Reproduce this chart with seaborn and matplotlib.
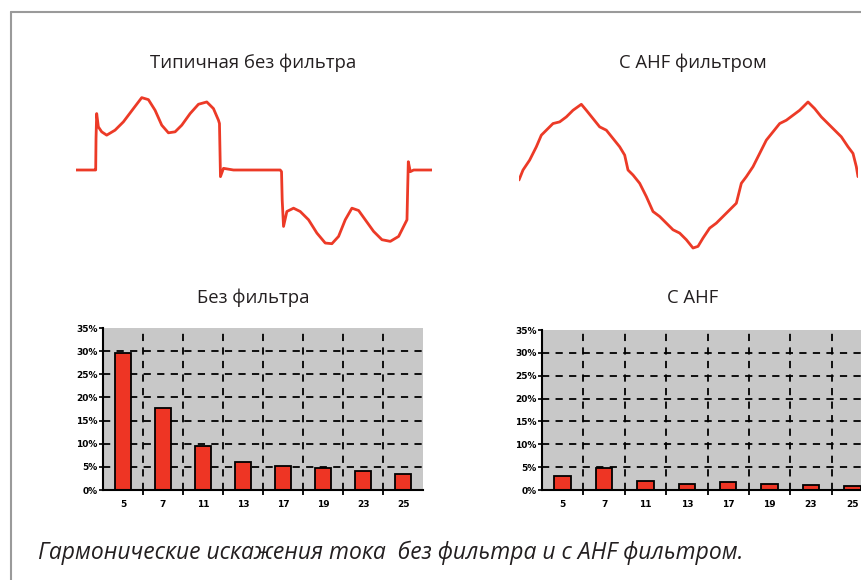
import numpy as np
import pandas as pd
import matplotlib
matplotlib.use("Agg")
import matplotlib.pyplot as plt
import seaborn as sns
from matplotlib.ticker import FixedLocator

# --- data ---
harmonics = ["5", "7", "11", "13", "17", "19", "23", "25"]
thd_no_filter = [29.6, 17.7, 9.4, 6.1, 5.1, 4.8, 4.1, 3.5]
thd_ahf = [3.1, 4.8, 2.0, 1.4, 1.7, 1.4, 1.0, 0.95]

# current waveform without filter (t in ms, i in A)
t_raw = [0.0, 1.14, 1.18, 1.2, 1.24, 1.34, 1.54, 1.84, 2.34, 2.84, 3.44, 3.94, 4.34,
         4.74, 5.14, 5.54, 5.94, 6.34, 6.84, 7.34, 7.84, 8.24, 8.54, 8.6, 8.66, 8.84,
         9.44, 12.24, 12.32, 12.36, 12.44, 12.64, 13.04, 13.44, 13.94, 14.44, 14.94,
         15.34, 15.74, 16.14, 16.54, 16.94, 17.34, 17.84, 18.34, 18.84, 19.34, 19.74,
         19.84, 19.88, 19.92, 20.04, 20.24, 21.34]
i_raw = [0, 0, 0, 47.5, 85, 65, 57.5, 52.5, 60, 72.5, 92.5, 109, 106,
         90, 67.5, 56, 57.5, 67.5, 85, 99, 102.5, 92.5, 75, 70, -10, 2.5,
         0, 0, -2.5, -45, -85, -62.5, -57.5, -62.5, -75, -95, -110,
         -111, -100, -75, -57.5, -61, -75, -92.5, -105, -107.5, -100, -80,
         -75, -30, 12.5, -2.5, 0, 0]

# current waveform with AHF filter
t_ahf = [0.0, 0.24, 0.64, 1.04, 1.34, 1.64, 2.04, 2.44, 2.84, 3.24, 3.74, 4.04, 4.44,
         4.84, 5.24, 5.64, 6.04, 6.34, 6.54, 6.84, 7.24, 7.64, 8.04, 8.44, 8.84, 9.24,
         9.64, 10.04, 10.44, 10.74, 11.04, 11.44, 11.84, 12.24, 12.64, 13.04, 13.34,
         13.64, 14.04, 14.44, 14.84, 15.24, 15.64, 16.04, 16.44, 16.84, 17.34, 17.74,
         18.14, 18.54, 18.94, 19.34, 19.74, 20.04, 20.24, 20.34]
i_ahf = [-7.5, 7.5, 22.5, 42.5, 60, 67.5, 77.5, 80, 87.5, 97.5, 106.5, 97.5, 85,
         72.5, 67.5, 55, 42.5, 30, 7.5, 0, -12.5, -32.5, -55, -62.5, -72.5, -82.5,
         -87.5, -97.5, -110, -107.5, -95, -80, -72.5, -62.5, -52.5, -42.5, -12.5,
         -2.5, 12.5, 32.5, 52.5, 65, 77.5, 82.5, 90, 97.5, 110, 100, 87.5,
         77.5, 67.5, 57.5, 42.5, 32.5, 12.5, -2.5]

RED = "#ec3a27"
TXT = "#231f20"
FONT = ["Open Sans", "DejaVu Sans"]

sns.set_theme(style="white")
plt.rcParams["font.family"] = FONT

W, H = 861, 580
fig = plt.figure(figsize=(W / 100, H / 100), dpi=100)
fig.patch.set_facecolor("white")


def px_axes(x0, y0, x1, y1):
    return fig.add_axes([x0 / W, 1 - y1 / H, (x1 - x0) / W, (y1 - y0) / H])


# frame lines (top and left)
fig.add_artist(plt.Line2D([11 / W, 1], [1 - 12 / H, 1 - 12 / H], color="#9a9a9a", lw=1.5))
fig.add_artist(plt.Line2D([11 / W, 11 / W], [0, 1 - 12 / H], color="#9a9a9a", lw=1.5))


def wave(ax, t, i):
    sns.lineplot(x=t, y=i, ax=ax, color=RED, lw=2.0, estimator=None, sort=False)
    ax.set_xlim(min(t), max(t))
    ax.set_ylim(-120.5, 120.5)
    ax.axis("off")


ax_w1 = px_axes(76, 90, 432, 250)
wave(ax_w1, t_raw, i_raw)
ax_w2 = px_axes(519, 95, 858, 255)
wave(ax_w2, t_ahf, i_ahf)


def bars(ax, vals):
    df = pd.DataFrame({"h": harmonics, "v": vals})
    ax.set_facecolor("#c8c8c8")
    sns.barplot(data=df, x="h", y="v", ax=ax, color="#ee3524", width=0.4,
                edgecolor="black", linewidth=1.3, saturation=1)
    ax.set_xlim(-0.5, len(harmonics) - 0.5)
    ax.set_ylim(0, 35)
    ax.set_yticks(range(0, 36, 5))
    ax.set_yticklabels([f"{v}%" for v in range(0, 36, 5)])
    ax.xaxis.set_minor_locator(FixedLocator(np.arange(0.5, len(harmonics) - 1, 1)))
    ax.grid(False)
    for y in range(5, 35, 5):
        ax.axhline(y, color="black", lw=1.3, ls=(0, (4, 3.5)), zorder=0.5)
    for x in np.arange(0.5, len(harmonics) - 1, 1):
        ax.axvline(x, color="black", lw=1.3, ls=(0, (4, 3.5)), zorder=0.5)
    ax.set_axisbelow(True)
    for s in ["top", "right"]:
        ax.spines[s].set_visible(False)
    for s in ["left", "bottom"]:
        ax.spines[s].set_color("black")
        ax.spines[s].set_linewidth(1.5)
    ax.tick_params(axis="x", which="major", length=0, pad=7, labelsize=6.5)
    ax.tick_params(axis="x", which="minor", length=3.5, width=1.3, color="black", bottom=True)
    ax.tick_params(axis="y", length=3, width=1.2, color="black", pad=1, labelsize=6.5, left=True)
    for lab in ax.get_xticklabels() + ax.get_yticklabels():
        lab.set_family(["DejaVu Sans"])
        lab.set_fontweight("bold")
        lab.set_color("black")
    ax.set_xlabel("")
    ax.set_ylabel("")


ax_b1 = px_axes(103, 328, 423, 490)
bars(ax_b1, thd_no_filter)
ax_b2 = px_axes(542, 330, 873, 490)
bars(ax_b2, thd_ahf)

# titles
fig.text(253 / W, 1 - 63 / H, "Типичная без фильтра", ha="center", va="center",
         fontsize=13.3, color=TXT, family=FONT)
fig.text(693 / W, 1 - 63 / H, "С AHF фильтром", ha="center", va="center",
         fontsize=13.3, color=TXT, family=FONT)
fig.text(253 / W, 1 - 298 / H, "Без фильтра", ha="center", va="center",
         fontsize=13.3, color=TXT, family=FONT)
fig.text(693 / W, 1 - 298 / H, "С AHF", ha="center", va="center",
         fontsize=13.3, color=TXT, family=FONT)

fig.text(38 / W, 1 - 553 / H, "Гармонические искажения тока  без фильтра и с AHF фильтром.",
         ha="left", va="center", fontsize=16.5, style="italic", color=TXT, family=FONT)

fig.savefig("out.png", dpi=100)
